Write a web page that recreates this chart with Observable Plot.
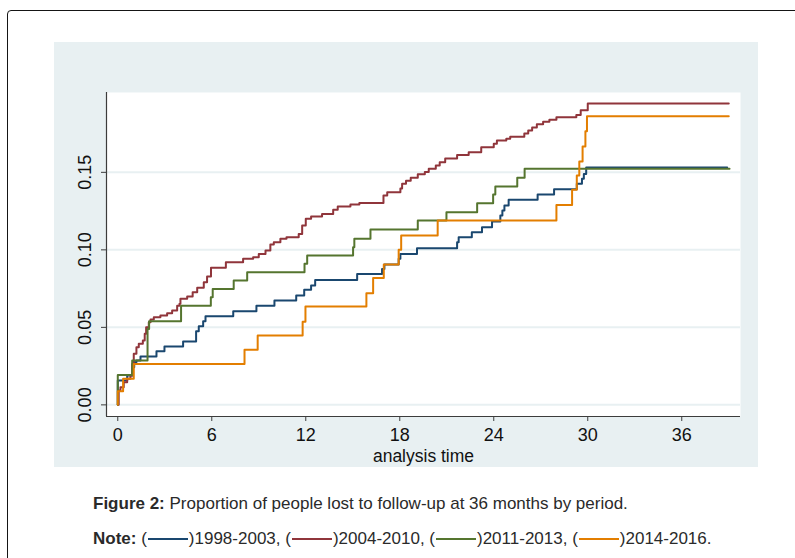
<!DOCTYPE html>
<html>
<head>
<meta charset="utf-8">
<script src="https://cdn.jsdelivr.net/npm/d3@7"></script>
<script src="https://cdn.jsdelivr.net/npm/@observablehq/plot@0.6"></script>
<style>
  html, body { margin: 0; padding: 0; width: 795px; height: 558px; overflow: hidden; background: #fff; }
  #frame { position: absolute; left: 7px; top: 10px; width: 830px; height: 620px; border: 1px solid #151515; border-radius: 4px; box-sizing: border-box; }
  #chart { position: absolute; left: 54px; top: 42px; }
  .cap { position: absolute; left: 93px; font-family: "Liberation Sans", Arial, sans-serif; font-size: 17px; color: #2a2a2a; white-space: nowrap; }
  .sw { display: inline-block; width: 40px; height: 2px; vertical-align: middle; margin: 0 1px; position: relative; top: -1px; }
</style>
</head>
<body>
<div id="frame"></div>
<div id="chart"></div>
<div class="cap" style="top:494px"><b>Figure 2:</b> Proportion of people lost to follow-up at 36 months by period.</div>
<div class="cap" id="note" style="top:529px"></div>
<script>
const periods = ["1998-2003", "2004-2010", "2011-2013", "2014-2016"];
const colors = ["#1a476f", "#90353b", "#55752f", "#e37e00"];
const xTicks = [0, 6, 12, 18, 24, 30, 36];
const yTicks = [0, 0.05, 0.10, 0.15];
const xLabel = "analysis time";

// 1998-2003
const t1 = [0, 0, 0.6, 0.95, 1.05, 1.19, 1.45, 2.47, 2.98, 4.17, 5.0, 5.17, 5.45, 5.6, 7.37, 8.85, 10.0, 11.39, 11.9, 12.34, 12.6, 15.28, 16.87, 17.02, 17.93, 18.04, 19.1, 21.66, 21.76, 22.6, 23.25, 23.89, 24.42, 24.55, 24.68, 24.95, 26.8, 27.85, 29.3, 29.63, 29.75, 29.9, 38.9];
const p1 = [0, 0.0157, 0.0189, 0.0243, 0.0275, 0.0286, 0.0312, 0.0346, 0.0376, 0.0408, 0.0475, 0.0507, 0.054, 0.0572, 0.0604, 0.064, 0.0673, 0.0705, 0.0742, 0.077, 0.0806, 0.0845, 0.0877, 0.0905, 0.0942, 0.0974, 0.101, 0.1049, 0.1081, 0.1114, 0.1146, 0.1183, 0.1221, 0.1254, 0.1286, 0.1323, 0.1357, 0.1391, 0.1426, 0.1458, 0.149, 0.1531, 0.1531];

// 2004-2010
const t2 = [0, 0.06, 0.17, 0.38, 0.6, 0.81, 0.92, 1.02, 1.19, 1.34, 1.6, 1.72, 1.81, 1.98, 2.09, 2.3, 2.72, 3.15, 3.47, 3.79, 3.94, 4.0, 4.43, 4.78, 5.07, 5.49, 5.7, 5.95, 6.9, 8.0, 8.64, 9.0, 9.43, 9.74, 9.96, 10.38, 10.77, 11.55, 11.77, 12.0, 12.34, 13.04, 13.75, 14.04, 14.85, 15.42, 16.96, 17.2, 18.04, 18.15, 18.4, 18.7, 19.15, 19.6, 19.85, 20.3, 20.55, 20.9, 21.66, 22.4, 23.2, 24.0, 24.2, 24.8, 25.05, 25.95, 26.2, 26.45, 26.75, 27.15, 27.55, 28.0, 29.27, 29.55, 30.0, 39.0];
const p2 = [0, 0.0092, 0.0114, 0.0146, 0.0168, 0.0189, 0.0264, 0.033, 0.0372, 0.0394, 0.0415, 0.0458, 0.05, 0.0533, 0.055, 0.0565, 0.0576, 0.0591, 0.0608, 0.064, 0.0652, 0.0684, 0.0699, 0.0726, 0.0755, 0.0791, 0.0828, 0.0884, 0.092, 0.0942, 0.0952, 0.0974, 0.0995, 0.1034, 0.1049, 0.1071, 0.1081, 0.1103, 0.1157, 0.12, 0.1215, 0.1232, 0.1258, 0.128, 0.1292, 0.1303, 0.135, 0.1372, 0.1395, 0.1426, 0.1445, 0.1465, 0.1488, 0.1502, 0.1523, 0.1544, 0.1565, 0.159, 0.1612, 0.163, 0.1662, 0.1684, 0.1705, 0.1716, 0.173, 0.175, 0.177, 0.179, 0.181, 0.1826, 0.184, 0.1855, 0.187, 0.190, 0.1944, 0.1944];

// 2011-2013
const t3 = [0, 0, 0.92, 1.9, 2.0, 4.04, 5.94, 6.06, 7.4, 8.26, 11.92, 12.09, 15.02, 15.1, 16.13, 19.15, 20.98, 22.94, 23.96, 24.1, 25.5, 25.97, 39.05];
const p3 = [0, 0.0192, 0.0286, 0.049, 0.054, 0.064, 0.0694, 0.0748, 0.0802, 0.0856, 0.091, 0.0963, 0.1017, 0.1071, 0.1131, 0.1189, 0.1243, 0.13, 0.1357, 0.1408, 0.1465, 0.1523, 0.1523];

// 2014-2016
const t4 = [0, 0, 0.34, 1.02, 8.09, 8.93, 11.8, 11.98, 15.87, 16.3, 16.98, 17.93, 18.09, 20.42, 28.0, 29.0, 29.3, 29.46, 29.67, 29.85, 29.95, 39.0];
const p4 = [0, 0.0088, 0.0168, 0.0264, 0.0355, 0.0447, 0.0537, 0.0634, 0.072, 0.0819, 0.0905, 0.1, 0.1092, 0.1189, 0.129, 0.1387, 0.148, 0.157, 0.1666, 0.1765, 0.1862, 0.1862];

const series = [[t1, p1], [t2, p2], [t3, p3], [t4, p4]];
const rows = series.flatMap(([ts, ps], i) => ts.map((t, j) => ({period: periods[i], t, p: ps[j]})));

const xDomain = [-0.72, 39.75];
const yDomain = [-0.0075, 0.2015];
const bg = "#e8f0f2";
const axisColor = "#3c3c3c";

const chart = Plot.plot({
  width: 704,
  height: 425,
  marginLeft: 52,
  marginRight: 18,
  marginTop: 50,
  marginBottom: 51,
  style: {background: bg, fontFamily: "'Liberation Sans', Arial, sans-serif", fontSize: "18px", color: "#111"},
  x: {domain: xDomain},
  y: {domain: yDomain},
  color: {domain: periods, range: colors},
  marks: [
    Plot.frame({fill: "white", stroke: "none"}),
    Plot.ruleY(yTicks, {stroke: bg, strokeWidth: 2}),
    Plot.ruleX([xDomain[0]], {stroke: axisColor, strokeWidth: 1.2}),
    Plot.ruleY([yDomain[0]], {stroke: axisColor, strokeWidth: 1.2}),
    Plot.axisX(xTicks, {tickSize: 5, tickPadding: 7, fontSize: 18, stroke: axisColor, fill: "#111", label: null}),
    Plot.axisY(yTicks, {tickSize: 5, fill: "none", stroke: axisColor, label: null}),
    Plot.text(yTicks, {y: d => d, text: d => d.toFixed(2), frameAnchor: "left", dx: -21, rotate: -90, textAnchor: "middle", lineAnchor: "middle", fontSize: 18, fill: "#111"}),
    Plot.text([xLabel], {frameAnchor: "bottom", dy: 39.5, text: d => d, fontSize: 17.5, lineAnchor: "middle", fill: "#111"}),
    Plot.line(rows, {x: "t", y: "p", z: "period", stroke: "period", curve: "step-after", strokeWidth: 2})
  ]
});
document.getElementById("chart").appendChild(chart);

const note = document.getElementById("note");
note.innerHTML = "<b>Note:</b> " + periods.map((p, i) =>
  `(<span class="sw" style="background:${colors[i]}"></span>)${p}`).join(", ") + ".";
</script>
</body>
</html>
